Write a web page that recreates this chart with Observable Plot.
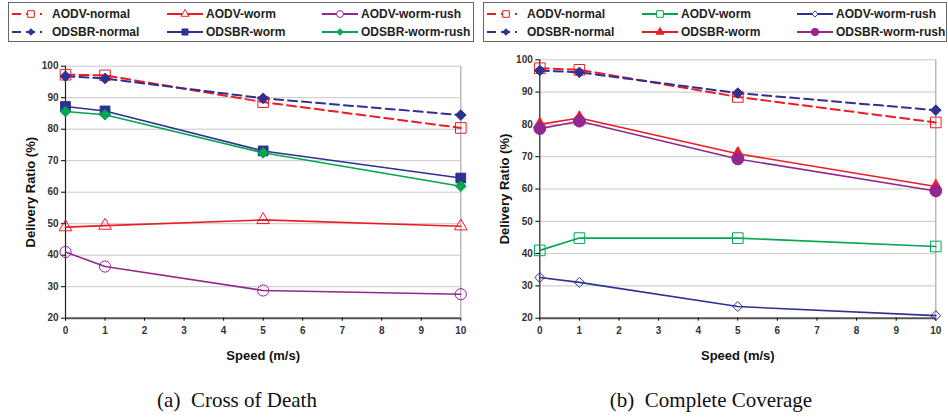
<!DOCTYPE html>
<html><head><meta charset="utf-8">
<script src="https://cdn.jsdelivr.net/npm/d3@7"></script>
<script src="https://cdn.jsdelivr.net/npm/@observablehq/plot@0.6"></script>
<style>
body{margin:0;background:#fff;}
#root{position:relative;width:948px;height:417px;font-family:"Liberation Sans",Arial,sans-serif;overflow:hidden;}
.panel{position:absolute;top:0;width:474px;height:417px;}
.legend{position:absolute;top:2px;height:38px;border:1px solid #666;background:#fff;}
.legend svg{overflow:visible;}
.plot{position:absolute;top:45px;left:0;}
.caption{position:absolute;top:388px;left:0;width:474px;text-align:center;font-family:"Liberation Serif","Times New Roman",serif;font-size:21px;line-height:24px;color:#111;white-space:pre;}
.plot g[aria-label="y-axis label"] text,.plot g[aria-label="x-axis label"] text{font-size:13px;font-weight:bold;fill:#111;}
.plot g[aria-label="y-axis tick label"] text,.plot g[aria-label="x-axis tick label"] text{font-weight:bold;fill:#333;}
</style>
</head><body><div id="root"></div>
<script>
// ---- data ----
const speeds = [0, 1, 5, 10];
const seriesNames = ["AODV-normal", "AODV-worm", "AODV-worm-rush", "ODSBR-normal", "ODSBR-worm", "ODSBR-worm-rush"];
const yTicks = [20, 30, 40, 50, 60, 70, 80, 90, 100];
const xTicks = [0, 1, 2, 3, 4, 5, 6, 7, 8, 9, 10];
const captions = ["(a)  Cross of Death", "(b)  Complete Coverage"];

// (a) Cross of Death
const crossAODVnormal     = [97.3, 97.1, 88.6, 80.4];
const crossAODVworm       = [48.9, 49.4, 51.2, 49.2];
const crossAODVwormRush   = [41.0, 36.4, 28.8, 27.6];
const crossODSBRnormal    = [96.8, 96.1, 89.8, 84.5];
const crossODSBRworm      = [87.2, 85.8, 73.1, 64.5];
const crossODSBRwormRush  = [85.6, 84.6, 72.5, 61.9];

// (b) Complete Coverage
const covAODVnormal       = [97.4, 96.9, 88.5, 80.6];
const covAODVworm         = [41.0, 44.8, 44.8, 42.2];
const covAODVwormRush     = [32.6, 31.1, 23.6, 20.8];
const covODSBRnormal      = [96.7, 96.1, 89.7, 84.4];
const covODSBRworm        = [80.0, 82.0, 70.9, 60.8];
const covODSBRwormRush    = [78.7, 81.0, 69.3, 59.4];

// ---- styles ----
const RED = "#ed1c24", BLUE = "#2e3192", GREEN = "#00a651", PURPLE = "#92278f";
const stylesA = [
  {color: RED, dashed: true, symbol: "square", filled: false, r: 6.0},
  {color: RED, dashed: false, symbol: "triangle", filled: false, r: 4.7},
  {color: PURPLE, dashed: false, symbol: "circle", filled: false, r: 5.6},
  {color: BLUE, dashed: true, symbol: "diamond2", filled: true, r: 4.8},
  {color: BLUE, dashed: false, symbol: "square", filled: true, r: 5.5},
  {color: GREEN, dashed: false, symbol: "diamond2", filled: true, r: 4.8}
];
const stylesB = [
  {color: RED, dashed: true, symbol: "square", filled: false, r: 6.0},
  {color: GREEN, dashed: false, symbol: "square", filled: false, r: 6.0},
  {color: BLUE, dashed: false, symbol: "diamond2", filled: false, r: 4.5},
  {color: BLUE, dashed: true, symbol: "diamond2", filled: true, r: 4.8},
  {color: RED, dashed: false, symbol: "triangle", filled: true, r: 4.6},
  {color: PURPLE, dashed: false, symbol: "circle", filled: true, r: 5.9}
];

const panels = [
  {left: 0, caption: captions[0], values: [crossAODVnormal, crossAODVworm, crossAODVwormRush, crossODSBRnormal, crossODSBRworm, crossODSBRwormRush], styles: stylesA,
   margins: {top: 20.7, bottom: 47.3, left: 65, right: 13.7}, legendLeft: 8, legendWidth: 464},
  {left: 474, caption: captions[1], values: [covAODVnormal, covAODVworm, covAODVwormRush, covODSBRnormal, covODSBRworm, covODSBRwormRush], styles: stylesB,
   margins: {top: 14.3, bottom: 47.3, left: 65.3, right: 12.7}, legendLeft: 9, legendWidth: 462}
];

const root = document.getElementById("root");

function symbolPath(name, r) {
  const map = {square: d3.symbolSquare, triangle: d3.symbolTriangle, circle: d3.symbolCircle, diamond2: d3.symbolDiamond2};
  return d3.symbol(map[name], r * r * Math.PI)();
}

for (const p of panels) {
  const panel = document.createElement("div");
  panel.className = "panel";
  panel.style.left = p.left + "px";
  root.appendChild(panel);

  // legend
  const leg = document.createElement("div");
  leg.className = "legend";
  leg.style.left = p.legendLeft + "px";
  leg.style.width = p.legendWidth + "px";
  panel.appendChild(leg);
  const lsvg = d3.select(leg).append("svg").attr("width", p.legendWidth).attr("height", 38);
  const colX = [3, 158, 313];
  seriesNames.forEach((name, i) => {
    const st = p.styles[i];
    const cx = colX[i % 3], cy = i < 3 ? 11 : 29;
    const g = lsvg.append("g").attr("transform", `translate(${cx},${cy})`);
    g.append("line").attr("x1", 0).attr("x2", i % 3 === 0 ? 30 : 36).attr("y1", 0).attr("y2", 0)
      .attr("stroke", st.color).attr("stroke-width", 2)
      .attr("stroke-dasharray", st.dashed ? "9,5" : null);
    g.append("path").attr("d", symbolPath(st.symbol, st.r * 0.62))
      .attr("transform", `translate(${i % 3 === 0 ? 19 : 18},0)`)
      .attr("fill", st.filled ? st.color : "#fff").attr("stroke", st.color).attr("stroke-width", 1);
    g.append("text").attr("x", i % 3 === 0 ? 40 : 39).attr("y", 4.3).text(name)
      .attr("font-family", "Liberation Sans, Arial, sans-serif").attr("font-weight", "bold")
      .attr("font-size", 12).attr("fill", "#222");
  });

  // data table
  const rows = [];
  seriesNames.forEach((name, i) => speeds.forEach((s, j) => rows.push({series: name, idx: i, speed: s, value: p.values[i][j]})));

  const marks = [
    Plot.gridY(yTicks.slice(1), {stroke: "#c8c8cc", strokeOpacity: 1}),
    Plot.ruleX([10], {stroke: "#a8a8b0", strokeWidth: 1.2}),
    Plot.ruleX([0], {stroke: "#222", strokeWidth: 1.2}),
    Plot.ruleY([20], {stroke: "#555", strokeWidth: 2}),
    Plot.axisY({ticks: yTicks, tickSize: 4, tickPadding: 3, fontSize: 10, label: "Delivery Ratio (%)", labelAnchor: "center", labelArrow: "none", labelOffset: 40}),
    Plot.axisX({ticks: xTicks, tickSize: 3, tickPadding: 6, fontSize: 10, label: "Speed (m/s)", labelAnchor: "center", labelArrow: "none", labelOffset: 42})
  ];
  seriesNames.forEach((name, i) => {
    const st = p.styles[i];
    const data = rows.filter(d => d.idx === i);
    marks.push(Plot.line(data, {x: "speed", y: "value", stroke: st.color, strokeWidth: st.dashed ? 2 : 1.6, strokeDasharray: st.dashed ? "9,5" : null}));
  });
  seriesNames.forEach((name, i) => {
    const st = p.styles[i];
    const data = rows.filter(d => d.idx === i);
    marks.push(Plot.dot(data, {x: "speed", y: "value", symbol: st.symbol, r: st.r, stroke: st.color, strokeWidth: 1, fill: st.filled ? st.color : "none"}));
  });

  const chart = Plot.plot({
    width: 474, height: 320,
    marginTop: p.margins.top, marginBottom: p.margins.bottom, marginLeft: p.margins.left, marginRight: p.margins.right,
    style: {fontFamily: "Liberation Sans, Arial, sans-serif", background: "transparent", overflow: "visible"},
    x: {domain: [0, 10]},
    y: {domain: [20, 100]},
    marks
  });
  const holder = document.createElement("div");
  holder.className = "plot";
  holder.appendChild(chart);
  panel.appendChild(holder);

  const cap = document.createElement("div");
  cap.className = "caption";
  cap.textContent = p.caption;
  panel.appendChild(cap);
}
</script>
</body></html>
